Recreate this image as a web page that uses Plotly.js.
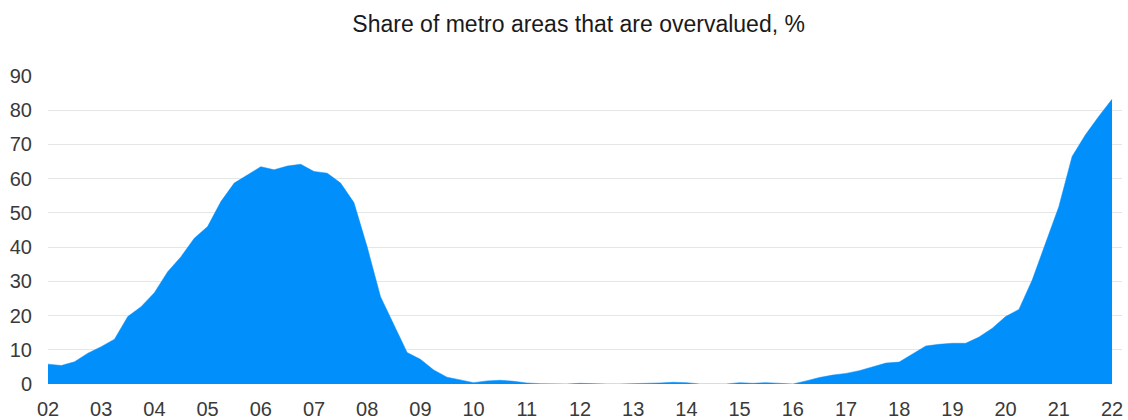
<!DOCTYPE html>
<html>
<head>
<meta charset="utf-8">
<script src="https://cdn.plot.ly/plotly-3.0.1.min.js"></script>
<style>
  html, body { margin: 0; padding: 0; background: #fff; }
  #chart { width: 1128px; height: 420px; }
</style>
</head>
<body>
<div id="chart"></div>
<script>
// Quarterly share of metro areas judged overvalued, 2002 Q1 to 2022 Q1
const quarterIndex = Array.from({ length: 81 }, (_, i) => i);
const overvaluedShare = [
  5.8, 5.4, 6.5, 9.0,
  10.9, 13.1, 19.7, 22.6,
  26.7, 32.8, 37.2, 42.6,
  46.0, 53.3, 58.7, 61.1,
  63.5, 62.6, 63.7, 64.2,
  62.1, 61.6, 58.7, 53.0,
  40.0, 25.5, 17.2, 9.2,
  7.2, 4.1, 2.0, 1.2,
  0.4, 0.9, 1.1, 0.8,
  0.3, 0.1, 0.0, 0.0,
  0.2, 0.0, 0.0, 0.0,
  0.1, 0.0, 0.3, 0.5,
  0.4, 0.0, 0.0, 0.0,
  0.4, 0.2, 0.4, 0.1,
  0.0, 0.9, 1.9, 2.6,
  3.1, 3.9, 4.9, 6.1,
  6.4, 8.7, 11.1, 11.6,
  11.9, 11.9, 13.7, 16.3,
  19.7, 21.8, 30.4, 41.1,
  51.8, 66.5, 72.8, 78.2,
  83.2
];

// Year labels sit on each first quarter
const yearTickPositions = [0, 4, 8, 12, 16, 20, 24, 28, 32, 36, 40, 44, 48, 52, 56, 60, 64, 68, 72, 76, 80];
const yearTickLabels = ['02', '03', '04', '05', '06', '07', '08', '09', '10', '11', '12',
                        '13', '14', '15', '16', '17', '18', '19', '20', '21', '22'];
const shareTicks = [0, 10, 20, 30, 40, 50, 60, 70, 80, 90];

const fontFamily = '"Liberation Sans", Arial, sans-serif';

const trace = {
  x: quarterIndex,
  y: overvaluedShare,
  type: 'scatter',
  mode: 'lines',
  fill: 'tozeroy',
  fillcolor: '#008ffb',
  line: { color: '#008ffb', width: 0.5 },
  hoverinfo: 'y'
};

const layout = {
  width: 1128,
  height: 420,
  margin: { l: 48, r: 6, t: 76, b: 36 },
  paper_bgcolor: '#ffffff',
  plot_bgcolor: '#ffffff',
  showlegend: false,
  title: {
    text: 'Share of metro areas that are overvalued, %',
    font: { family: fontFamily, size: 23, color: '#1a1a1a' },
    x: 0.513,
    xanchor: 'center',
    y: 0.943,
    yanchor: 'middle'
  },
  xaxis: {
    range: [0, 80.75],
    tickmode: 'array',
    tickvals: yearTickPositions,
    ticktext: yearTickLabels,
    showgrid: false,
    zeroline: false,
    showline: false,
    ticks: '',
    ticklabelstandoff: 11,
    tickfont: { family: fontFamily, size: 20, color: '#3a3a3a' },
    fixedrange: true
  },
  yaxis: {
    range: [0, 90],
    tickmode: 'array',
    tickvals: shareTicks,
    showgrid: true,
    gridcolor: '#e6e6e6',
    gridwidth: 1,
    zeroline: false,
    showline: false,
    ticks: '',
    ticklabelstandoff: 15,
    tickfont: { family: fontFamily, size: 20, color: '#3a3a3a' },
    fixedrange: true
  }
};

Plotly.newPlot('chart', [trace], layout, { displayModeBar: false, staticPlot: true });
</script>
</body>
</html>
